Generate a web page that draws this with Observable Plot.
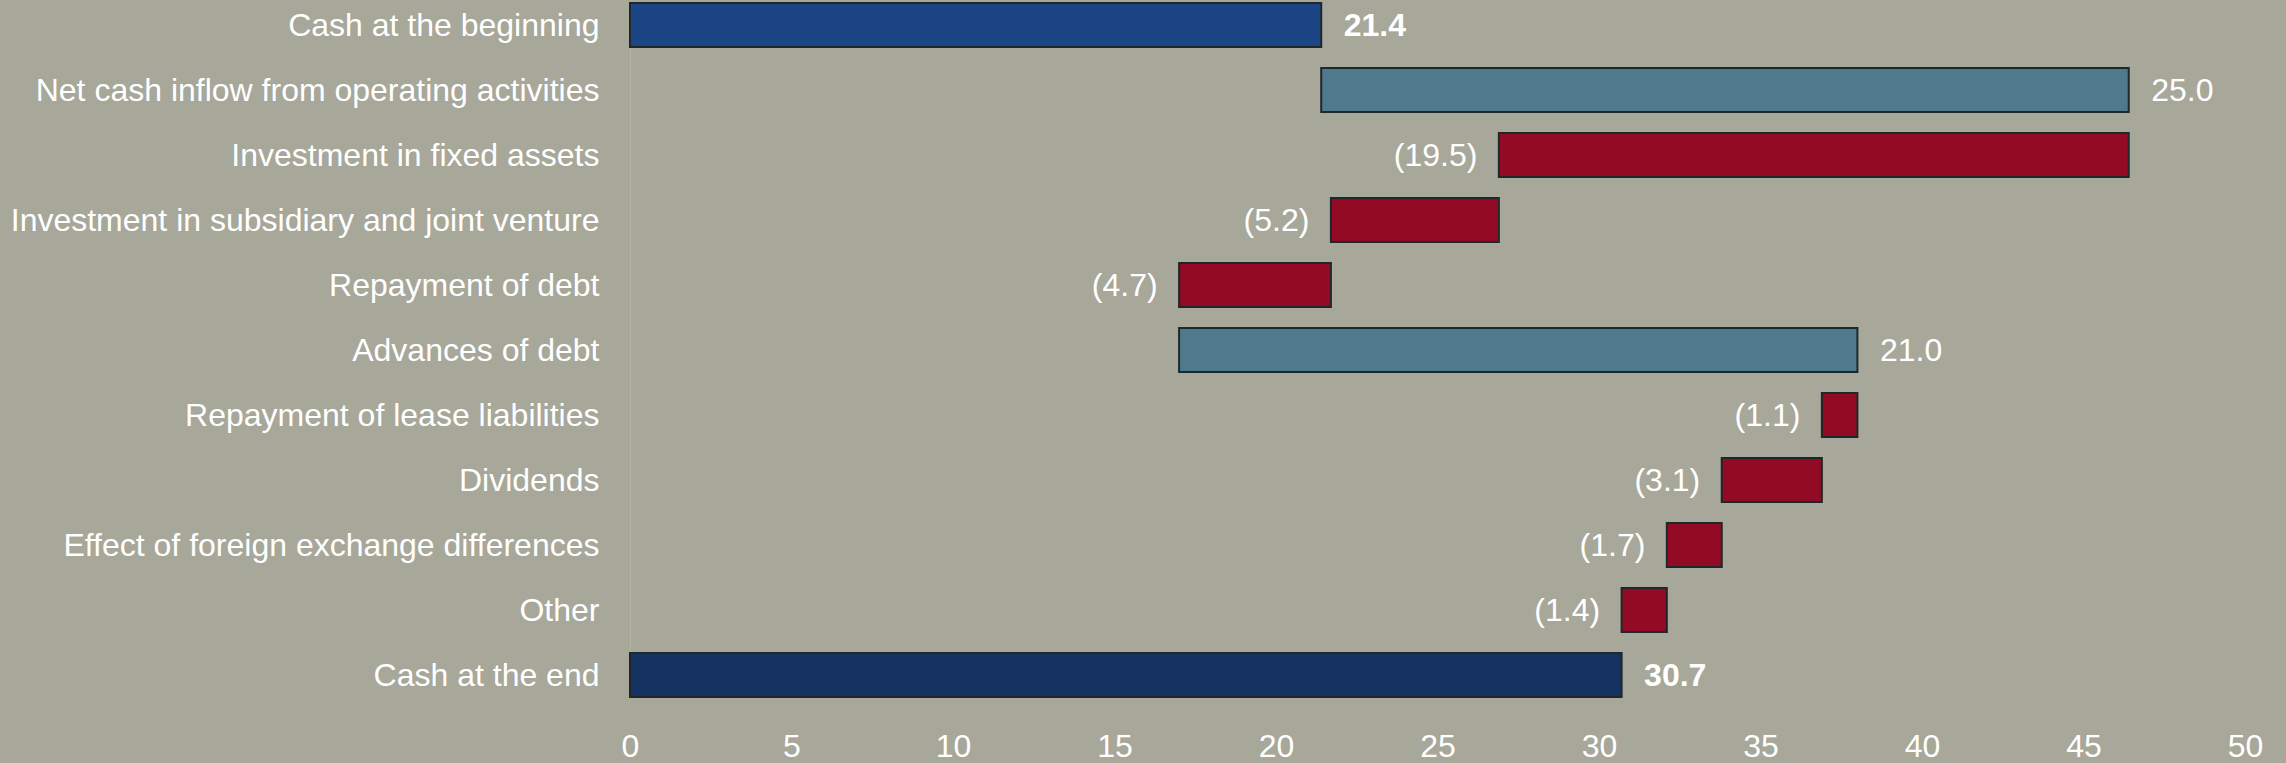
<!DOCTYPE html>
<html>
<head>
<meta charset="utf-8">
<script src="https://cdn.jsdelivr.net/npm/d3@7"></script>
<script src="https://cdn.jsdelivr.net/npm/@observablehq/plot@0.6"></script>
<style>
  html, body { margin: 0; padding: 0; background: #a7a79a; }
  #chart svg { display: block; }
</style>
</head>
<body>
<div id="chart"></div>
<script>
const categories = [
  "Cash at the beginning",
  "Net cash inflow from operating activities",
  "Investment in fixed assets",
  "Investment in subsidiary and joint venture",
  "Repayment of debt",
  "Advances of debt",
  "Repayment of lease liabilities",
  "Dividends",
  "Effect of foreign exchange differences",
  "Other",
  "Cash at the end"
];
const values = [21.4, 25.0, -19.5, -5.2, -4.7, 21.0, -1.1, -3.1, -1.7, -1.4, 30.7];
const kinds = ["start", "delta", "delta", "delta", "delta", "delta", "delta", "delta", "delta", "delta", "end"];
const xTicks = [0, 5, 10, 15, 20, 25, 30, 35, 40, 45, 50];
const palette = {start: "#1c4585", end: "#153261", up: "#4f7a8d", down: "#930a25"};

// Build waterfall rows
let running = 0;
const rows = categories.map((cat, i) => {
  const v = values[i], k = kinds[i];
  let x1, x2, colorKey;
  if (k === "start" || k === "end") {
    x1 = 0; x2 = v; running = v; colorKey = k;
  } else {
    const prev = running;
    running = +(prev + v).toFixed(2);
    x1 = Math.min(prev, running); x2 = Math.max(prev, running);
    colorKey = v >= 0 ? "up" : "down";
  }
  const label = v < 0 ? `(${Math.abs(v).toFixed(1)})` : v.toFixed(1);
  return {cat, v, x1, x2, kind: k, fill: palette[colorKey], label, bold: k !== "delta"};
});

const FS = 32;
const chart = Plot.plot({
  width: 2286,
  height: 763,
  marginLeft: 630,
  marginRight: 41,
  marginTop: 1.5,
  marginBottom: 65.5,
  style: {
    background: "#a7a79a",
    color: "white",
    fontFamily: "'Liberation Sans', Arial, sans-serif",
    fontSize: FS + "px"
  },
  x: {domain: [0, 50], ticks: xTicks, tickFormat: d => String(d), label: null},
  y: {domain: categories, paddingInner: 0.325, paddingOuter: 0, label: null},
  color: {type: "identity"},
  marks: [
    Plot.ruleX([0], {stroke: "#b1b1a5", strokeWidth: 1}),
    Plot.barX(rows, {y: "cat", x1: "x1", x2: "x2", fill: "fill", stroke: "#1e2828", strokeWidth: 2}),
    Plot.text(rows.filter(d => d.v >= 0 && !d.bold), {
      x: "x2", y: "cat", text: "label", textAnchor: "start", dx: 22,
      fill: "white", fontSize: FS
    }),
    Plot.text(rows.filter(d => d.bold), {
      x: "x2", y: "cat", text: "label", textAnchor: "start", dx: 22,
      fill: "white", fontSize: FS, fontWeight: "bold"
    }),
    Plot.text(rows.filter(d => d.v < 0), {
      x: "x1", y: "cat", text: "label", textAnchor: "end", dx: -22,
      fill: "white", fontSize: FS
    }),
    Plot.axisX({ticks: xTicks, tickSize: 0, tickPadding: 36, label: null, fontSize: FS, tickFormat: d => String(d)}),
    Plot.axisY({tickSize: 0, tickPadding: 31, label: null, fontSize: FS})
  ]
});
document.getElementById("chart").appendChild(chart);
</script>
</body>
</html>
